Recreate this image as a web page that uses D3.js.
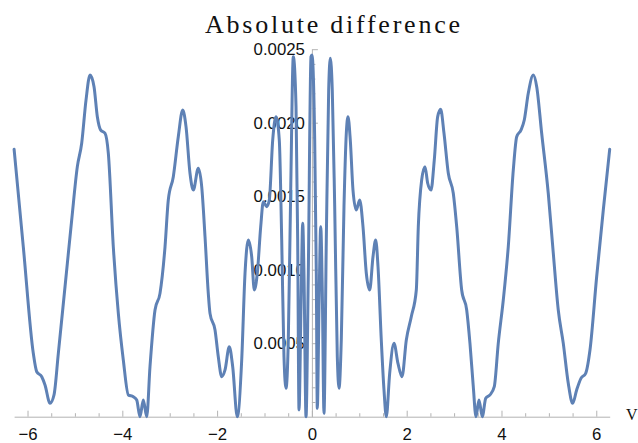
<!DOCTYPE html>
<html>
<head>
<meta charset="utf-8">
<script src="https://cdn.jsdelivr.net/npm/d3@7"></script>
<style>
  html, body { margin: 0; padding: 0; background: #fff; }
  svg { display: block; }
</style>
</head>
<body>
<div id="chart"></div>
<script>
// Sample positions along the horizontal axis (−2π … 2π)
const xValues = [
  -6.283, -6.089, -5.878, -5.806, -5.700, -5.631, -5.525, -5.441, -5.350, -5.209,
  -5.068, -4.949, -4.857, -4.766, -4.681, -4.597, -4.527, -4.456, -4.365, -4.295,
  -4.190, -4.084, -3.979, -3.873, -3.768, -3.696, -3.627, -3.557, -3.485, -3.416,
  -3.310, -3.205, -3.099, -3.030, -2.924, -2.819, -2.726, -2.656, -2.572, -2.502,
  -2.397, -2.325, -2.255, -2.186, -2.150, -2.044, -1.975, -1.903, -1.833, -1.743,
  -1.671, -1.574, -1.481, -1.411, -1.342, -1.270, -1.215, -1.152, -1.080, -1.025,
  -0.954, -0.899, -0.827, -0.757, -0.688, -0.637, -0.589, -0.546, -0.498, -0.447,
  -0.392, -0.335, -0.300, -0.272, -0.230, -0.194, -0.167, -0.124, -0.076, -0.019,
   0.002,
   0.059,  0.093,  0.114,  0.150,  0.186,  0.219,  0.255,  0.304,  0.354,  0.388,
   0.430,  0.481,  0.536,  0.572,  0.620,  0.677,  0.726,  0.762,  0.810,  0.867,
   0.937,  1.008,  1.078,  1.148,  1.219,  1.289,  1.346,  1.395,  1.464,  1.521,
   1.570,  1.641,  1.732,  1.816,  1.901,  1.992,  2.097,  2.203,  2.245,  2.316,
   2.386,  2.443,  2.513,  2.582,  2.654,  2.717,  2.787,  2.878,  2.983,  3.055,
   3.160,  3.266,  3.335,  3.405,  3.462,  3.525,  3.595,  3.667,  3.757,  3.848,
   3.932,  4.038,  4.143,  4.249,  4.321,  4.411,  4.481,  4.565,  4.671,  4.743,
   4.848,  4.987,  5.093,  5.198,  5.304,  5.409,  5.502,  5.586,  5.677,  5.776,
   5.867,  6.008,  6.148,  6.283
];

// Absolute difference at each sample position
const diffValues = [
  0.001819, 0.001156, 0.000431, 0.000306, 0.000272, 0.000216, 0.000091, 0.000148, 0.000431, 0.000884,
  0.001338, 0.001701, 0.001860, 0.002154, 0.002324, 0.002245, 0.002041, 0.001950, 0.001928, 0.001792,
  0.001156, 0.000703, 0.000386, 0.000148, 0.000136, 0.000114, 0.000000, 0.000114, 0.000000, 0.000340,
  0.000726, 0.000839, 0.001156, 0.001474, 0.001633, 0.001905, 0.002086, 0.001973, 0.001656, 0.001542,
  0.001690, 0.001565, 0.001224, 0.000839, 0.000703, 0.000590, 0.000408, 0.000272, 0.000318, 0.000476,
  0.000340, 0.000000, 0.000386, 0.000976, 0.001202, 0.001088, 0.000862, 0.000976, 0.001293, 0.001463,
  0.001429, 0.001474, 0.001882, 0.002041, 0.001882, 0.001202, 0.000408, 0.000193, 0.000522, 0.001542,
  0.002449, 0.002109, 0.001202, 0.000046, 0.000748, 0.001316, 0.000976, 0.000000, 0.000976, 0.002449,
  0.002461,
  0.001882, 0.000976, 0.000057, 0.000748, 0.001293, 0.000862, 0.000023, 0.001202, 0.002222, 0.002438,
  0.002222, 0.001429, 0.000408, 0.000193, 0.000522, 0.001429, 0.001928, 0.002041, 0.001882, 0.001542,
  0.001406, 0.001474, 0.001293, 0.000976, 0.000862, 0.001088, 0.001202, 0.001020, 0.000522, 0.000182,
  0.000000, 0.000295, 0.000499, 0.000363, 0.000272, 0.000522, 0.000680, 0.000862, 0.001293, 0.001610,
  0.001701, 0.001588, 0.001542, 0.001746, 0.002041, 0.002091, 0.001928, 0.001656, 0.001520, 0.001293,
  0.000862, 0.000726, 0.000499, 0.000204, 0.000000, 0.000114, 0.000000, 0.000125, 0.000148, 0.000204,
  0.000499, 0.000794, 0.001156, 0.001678, 0.001905, 0.001950, 0.002018, 0.002200, 0.002324, 0.002245,
  0.001928, 0.001520, 0.001112, 0.000726, 0.000499, 0.000227, 0.000091, 0.000182, 0.000261, 0.000295,
  0.000454, 0.000952, 0.001406, 0.001819
];

// Tick positions and labels
const xMajorTicks = [-6, -4, -2, 0, 2, 4, 6];
const xMinorTicks = [-6, -5.5, -5, -4.5, -4, -3.5, -3, -2.5, -2, -1.5, -1, -0.5, 0,
                      0.5, 1, 1.5, 2, 2.5, 3, 3.5, 4, 4.5, 5, 5.5, 6];
const yMajorTicks = [0.0005, 0.0010, 0.0015, 0.0020, 0.0025];
const yMinorTicks = [0.0001, 0.0002, 0.0003, 0.0004, 0.0006, 0.0007, 0.0008, 0.0009,
                      0.0011, 0.0012, 0.0013, 0.0014, 0.0016, 0.0017, 0.0018, 0.0019,
                      0.0021, 0.0022, 0.0023, 0.0024];
const titleText = "Absolute difference";
const xAxisLabel = "V";

const width = 638, height = 443;
const axisColor = "#b3b3b3";
const lineColor = "#5e81b5";
const labelFont = "'Liberation Sans', Arial, sans-serif";
const serifFont = "'Liberation Serif', 'DejaVu Serif', serif";

const svg = d3.select("#chart").append("svg")
  .attr("width", width).attr("height", height);

const x = d3.scaleLinear().domain([-2 * Math.PI, 2 * Math.PI]).range([14.1, 609.7]);
const y = d3.scaleLinear().domain([0, 0.0025]).range([416.7, 49.2]);

const fmtMinus = v => (v < 0 ? "\u2212" + Math.abs(v) : String(v));

// Horizontal axis: minor ticks, then major ticks with labels
const gxMinor = svg.append("g")
  .attr("transform", `translate(0,${y(0)})`)
  .call(d3.axisBottom(x).tickValues(xMinorTicks.filter(t => !xMajorTicks.includes(t)))
    .tickSizeInner(-3.5).tickSizeOuter(0).tickFormat(""));
gxMinor.select(".domain").remove();

const gx = svg.append("g")
  .attr("transform", `translate(0,${y(0)})`)
  .call(d3.axisBottom(x).tickValues(xMajorTicks)
    .tickSizeInner(-6).tickSizeOuter(0).tickPadding(11.8).tickFormat(fmtMinus));

// Vertical axis placed at x = 0, ticks pointing into the plot
const gyMinor = svg.append("g")
  .attr("transform", `translate(${x(0)},0)`)
  .call(d3.axisLeft(y).tickValues(yMinorTicks)
    .tickSizeInner(-3.5).tickSizeOuter(0).tickFormat(""));
gyMinor.select(".domain").remove();

const gy = svg.append("g")
  .attr("transform", `translate(${x(0)},0)`)
  .call(d3.axisLeft(y).tickValues(yMajorTicks)
    .tickSizeInner(-6).tickSizeOuter(0).tickPadding(7).tickFormat(d3.format(".4f")));

[gx, gy, gxMinor, gyMinor].forEach(g => {
  g.selectAll(".domain").attr("stroke", axisColor).attr("stroke-width", 1);
  g.selectAll(".tick line").attr("stroke", axisColor).attr("stroke-width", 1);
  g.selectAll(".tick text")
    .attr("fill", "#111")
    .style("font-family", labelFont)
    .style("font-size", "16.8px");
});

// The curve
const points = xValues.map((v, i) => [v, diffValues[i]]);
const line = d3.line()
  .x(d => x(d[0]))
  .y(d => y(d[1]))
  .curve(d3.curveMonotoneX);

svg.append("path")
  .datum(points)
  .attr("d", line)
  .attr("fill", "none")
  .attr("stroke", lineColor)
  .attr("stroke-width", 3)
  .attr("stroke-linejoin", "round")
  .attr("stroke-linecap", "round");

// Title, spread to a fixed width
svg.append("text")
  .attr("x", 205)
  .attr("y", 33)
  .attr("textLength", 255)
  .attr("lengthAdjust", "spacing")
  .style("font-family", serifFont)
  .style("font-size", "26px")
  .attr("fill", "#111")
  .text(titleText);

// Horizontal axis label at the right end
svg.append("text")
  .attr("x", 626)
  .attr("y", 420)
  .style("font-family", serifFont)
  .style("font-size", "16px")
  .attr("fill", "#111")
  .text(xAxisLabel);
</script>
</body>
</html>
